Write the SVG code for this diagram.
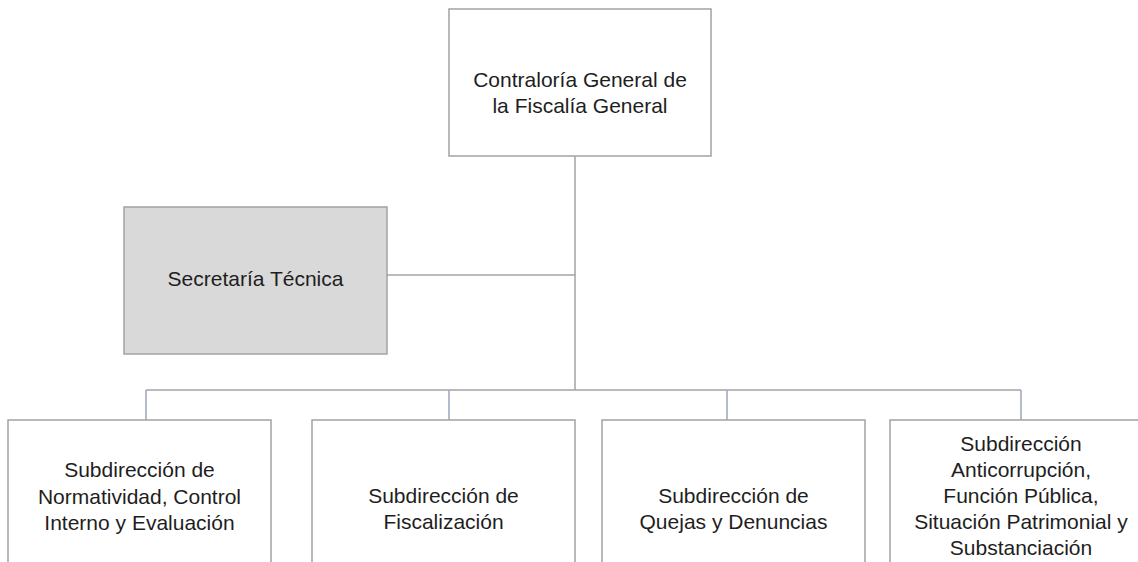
<svg xmlns="http://www.w3.org/2000/svg" width="1138" height="562" viewBox="0 0 1138 562">
<style>
.box{fill:#ffffff;stroke:#a3a3a3;stroke-width:1.5}
.gray{fill:#d9d9d9}
.t{font-family:"Liberation Sans",Arial,sans-serif;font-size:21px;fill:#1e1e1e;text-anchor:middle}
.ln{stroke:#a3a3a3;stroke-width:1.5;fill:none}
.dr{stroke:#9ba4bd;stroke-width:1.5;fill:none}
</style>
<rect width="1138" height="562" fill="#ffffff"/>
<g id="connectors">
<line class="ln" x1="575" y1="156" x2="575" y2="390"/>
<line class="ln" x1="387" y1="275" x2="575" y2="275"/>
<line class="ln" x1="146" y1="390" x2="1021" y2="390"/>
<line class="dr" x1="146" y1="390" x2="146" y2="420"/>
<line class="dr" x1="449" y1="390" x2="449" y2="420"/>
<line class="dr" x1="727" y1="390" x2="727" y2="420"/>
<line class="dr" x1="1021" y1="390" x2="1021" y2="420"/>
</g>
<g id="contraloria">
<rect class="box" x="449" y="9" width="262" height="147"/>
<text class="t" x="580" y="87">Contraloría General de</text>
<text class="t" x="580" y="113">la Fiscalía General</text>
</g>
<g id="secretaria">
<rect class="box gray" x="124" y="207" width="263" height="147"/>
<text class="t" x="255.5" y="286">Secretaría Técnica</text>
</g>
<g id="normatividad">
<rect class="box" x="8" y="420" width="263" height="160"/>
<text class="t" x="139.5" y="477">Subdirección de</text>
<text class="t" x="139.5" y="504">Normatividad, Control</text>
<text class="t" x="139.5" y="530">Interno y Evaluación</text>
</g>
<g id="fiscalizacion">
<rect class="box" x="312" y="420" width="263" height="160"/>
<text class="t" x="443.5" y="503">Subdirección de</text>
<text class="t" x="443.5" y="529">Fiscalización</text>
</g>
<g id="quejas">
<rect class="box" x="602" y="420" width="263" height="160"/>
<text class="t" x="733.5" y="503">Subdirección de</text>
<text class="t" x="733.5" y="529">Quejas y Denuncias</text>
</g>
<g id="anticorrupcion">
<rect class="box" x="890" y="420" width="263" height="160"/>
<text class="t" x="1021" y="451">Subdirección</text>
<text class="t" x="1021" y="477">Anticorrupción,</text>
<text class="t" x="1021" y="503">Función Pública,</text>
<text class="t" x="1021" y="529">Situación Patrimonial y</text>
<text class="t" x="1021" y="555">Substanciación</text>
</g>
</svg>
